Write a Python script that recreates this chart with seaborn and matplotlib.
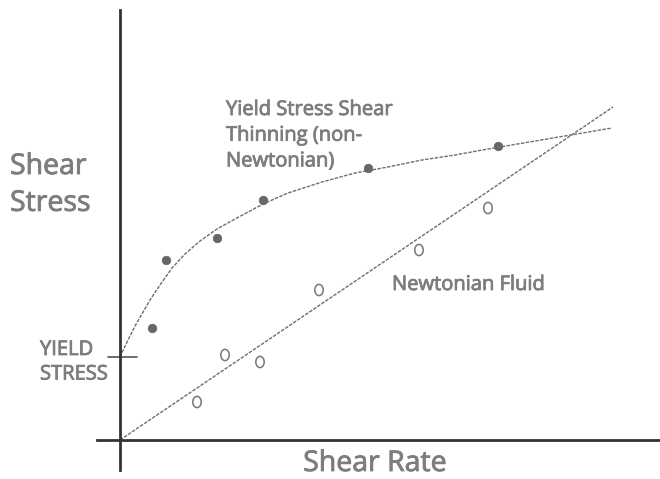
import numpy as np
import pandas as pd
import matplotlib
matplotlib.use("Agg")
import matplotlib.pyplot as plt
import matplotlib.patheffects as pe
from matplotlib.path import Path
import seaborn as sns

# ---- data (x = shear rate, y = shear stress, arbitrary units) ----
newt_pts_x = [7.7, 10.5, 14.0, 19.9, 29.9, 36.8]
newt_pts_y = [3.8, 8.5, 7.8, 15.0, 19.0, 23.2]
newt_line_x = [0.0, 49.3]
newt_line_y = [0.0, 33.3]

yield_pts_x = [3.15, 4.6, 9.7, 14.3, 24.8, 37.8]
yield_pts_y = [11.2, 18.0, 20.2, 24.0, 27.2, 29.4]
yield_curve_x = [0.0, 0.8, 1.5, 2.2, 3.0, 4.0, 5.2, 6.5, 8.0, 9.7, 11.5, 13.0,
                 14.3, 16.8, 20.2, 23.5, 26.8, 30.2, 33.5, 36.8, 49.2]
yield_curve_y = [8.3, 10.0, 11.4, 12.6, 14.0, 15.5, 17.2, 18.6, 19.9, 21.1, 22.1, 22.9,
                 23.6, 24.7, 25.8, 26.7, 27.3, 28.0, 28.5, 29.1, 31.2]
yield_stress = 8.3

sns.set_theme(style="white")
plt.rcParams["font.family"] = ["Open Sans", "DejaVu Sans"]

fig = plt.figure(figsize=(6.6, 4.79), dpi=100)
ax = fig.add_axes([0, 0, 1, 1])
ax.set_xlim(-12, 54)
ax.set_ylim(-3.9, 44)

line_col = "#6e6e6e"
dash = (0, (2.5, 1.0))

sns.lineplot(x=newt_line_x, y=newt_line_y, ax=ax, color=line_col, lw=1.0,
             linestyle=dash, sort=False)
sns.lineplot(x=yield_curve_x, y=yield_curve_y, ax=ax, color=line_col, lw=1.0,
             linestyle=dash, sort=False)

t = np.linspace(0, 2 * np.pi, 40)
ellipse = Path(np.column_stack([np.cos(t) * 0.75, np.sin(t)]))
sns.scatterplot(x=newt_pts_x, y=newt_pts_y, ax=ax, marker=ellipse, s=65,
                facecolor="none", edgecolor="#777777", linewidth=1.1)
sns.scatterplot(x=yield_pts_x, y=yield_pts_y, ax=ax, marker="o", s=38,
                color="#666666", edgecolor="#666666", linewidth=0.5)

# yield stress tick
ax.plot([-1.2, 1.7], [yield_stress, yield_stress], color="#555555", lw=1.2)

# axes
for s in ["top", "right"]:
    ax.spines[s].set_visible(False)
ax.spines["left"].set_position(("data", 0))
ax.spines["bottom"].set_position(("data", 0))
ax.spines["left"].set_bounds(-3.0, 43.0)
ax.spines["bottom"].set_bounds(-2.3, 54)
for s in ["left", "bottom"]:
    ax.spines[s].set_color("#333333")
    ax.spines[s].set_linewidth(2.0)
ax.set_xticks([])
ax.set_yticks([])
ax.set_facecolor("white")

txt = "#7d7d7d"
fx = [pe.withStroke(linewidth=0.6, foreground=txt)]
ax.text(-11.0, 28.7, "Shear\nStress", fontsize=20.5, color=txt, ha="left", va="top",
        linespacing=1.42, path_effects=fx)
ax.text(25.5, -1.0, "Shear Rate", fontsize=20.5, color=txt, ha="center", va="top",
        path_effects=fx)
ax.text(10.6, 34.0, "Yield Stress Shear\nThinning (non-\nNewtonian)", fontsize=14.5,
        color=txt, ha="left", va="top", linespacing=1.38, path_effects=fx)
ax.text(27.2, 16.5, "Newtonian Fluid", fontsize=14.5, color=txt, ha="left", va="top",
        path_effects=fx)
ax.text(-8.0, 10.0, "YIELD\nSTRESS", fontsize=14.5, color=txt, ha="left", va="top",
        linespacing=1.3, path_effects=fx)

fig.savefig("out.png", dpi=100, facecolor="white")
